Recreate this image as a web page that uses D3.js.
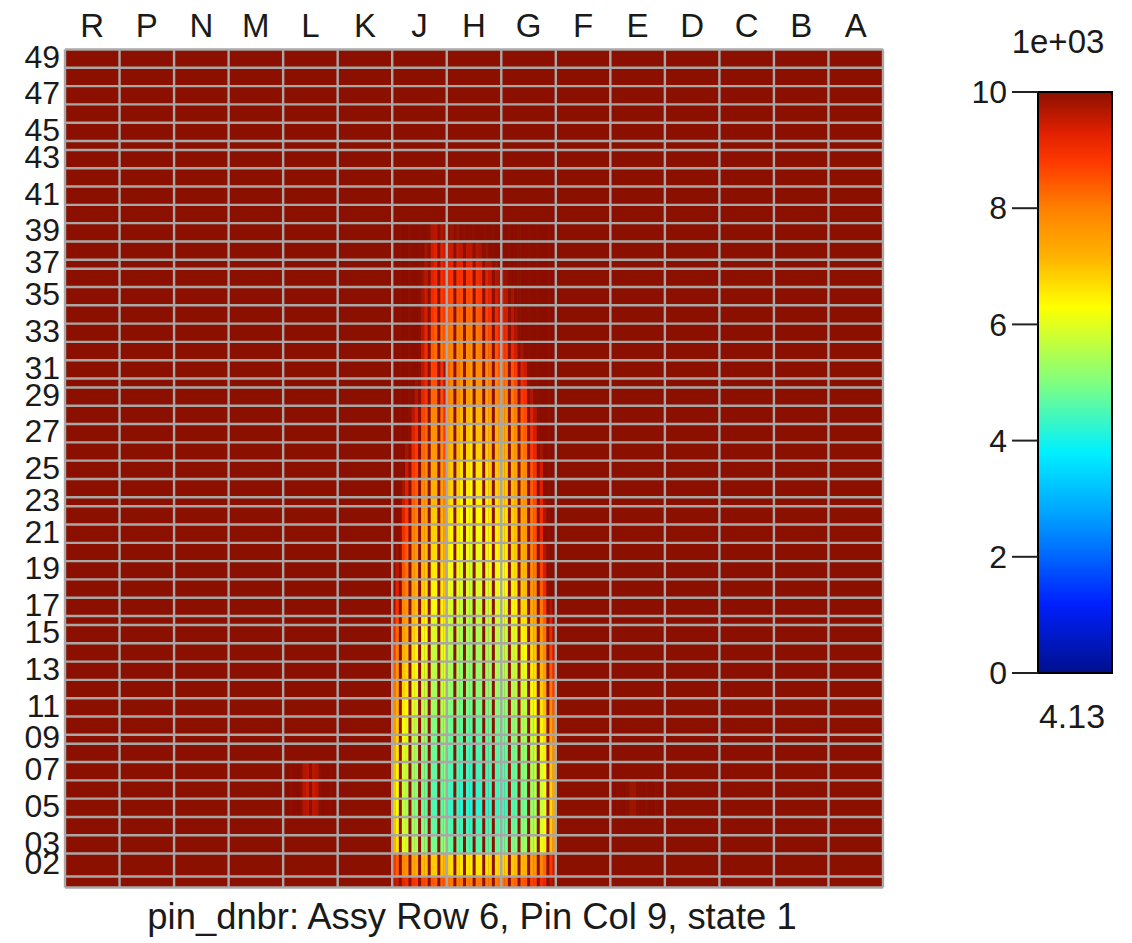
<!DOCTYPE html>
<html>
<head>
<meta charset="utf-8">
<script src="https://cdn.jsdelivr.net/npm/d3@7"></script>
<style>
  body { margin: 0; background: #fff; }
  text { font-family: "Liberation Sans", Arial, Helvetica, sans-serif; fill: #1a1a1a; }
</style>
</head>
<body>
<svg id="chart" width="1132" height="943"></svg>
<script>
//Assembly columns across the core row
var assemblies = ["R","P","N","M","L","K","J","H","G","F","E","D","C","B","A"];

//Axial mesh heights (cm), level 01 at the bottom up to level 49
var levelHeights = [4.95,10.35,
  8.24,8.24,8.24,8.24,8.24,8.24,4.05,
  8.24,8.24,8.24,8.24,8.24,8.24,4.05,
  8.24,8.24,8.24,8.24,8.24,8.24,4.05,
  8.24,8.24,8.24,8.24,8.24,8.24,4.05,
  8.24,8.24,8.24,8.24,8.24,8.24,4.05,
  8.24,8.24,8.24,8.24,8.24,8.24,4.05,
  8.24,8.24,8.24,8.24,8.24];

//Level labels that are printed on the left axis
var levelLabels = ["02","03","05","07","09","11","13","15","17","19","21","23","25",
  "27","29","31","33","35","37","39","41","43","45","47","49"];

//17 pins per assembly, guide tubes have no dnbr value
var pinsPerAssy = 17;
var guideTubePins = [3,6,9,12,15];
var fuelPins = [1,2,4,5,7,8,10,11,13,14,16,17];

//Colour bar ticks (x 1e+03) and the minimum value
var colorTicks = [0,2,4,6,8,10];
var minValue = 4.13;
var colorDomain = [0,1.2,2.5,3.8,5.0,6.3,7.2,8.0,8.8,9.3,10];
var colorRange = ["#00108c","#0020ff","#0090ff","#00f0ff","#80ff80","#ffff00",
  "#ffb000","#ff8000","#ff3800","#e02000","#8c1000"];

//pin dnbr (x 1e+03) for fuel pins, levels 01..39; everything else is above 10
var dnbrJ = [
  [9.7,9.5,9.2,9.0,8.9,8.8,8.7,8.6,8.5,8.4,8.4,8.5],
  [8.9,8.4,7.9,7.7,7.4,7.3,7.1,7.0,6.9,6.9,7.0,7.2],
  [7.2,6.6,6.0,5.8,5.5,5.4,5.2,5.1,4.9,4.9,5.0,5.3],
  [7.0,6.4,5.8,5.6,5.3,5.2,5.0,4.9,4.7,4.7,4.8,5.1],
  [6.8,6.2,5.6,5.4,5.1,5.0,4.8,4.7,4.5,4.5,4.6,4.9],
  [6.9,6.3,5.7,5.5,5.2,5.1,4.9,4.8,4.6,4.6,4.7,5.0],
  [7.0,6.4,5.8,5.6,5.3,5.2,5.0,4.9,4.7,4.7,4.8,5.1],
  [7.2,6.6,6.0,5.8,5.5,5.3,5.1,5.0,4.8,4.8,4.9,5.2],
  [7.5,6.8,6.2,5.9,5.6,5.5,5.3,5.2,4.9,4.9,5.1,5.4],
  [7.6,6.9,6.3,6.0,5.7,5.6,5.4,5.3,5.0,5.0,5.2,5.5],
  [7.9,7.2,6.5,6.3,6.0,5.8,5.6,5.5,5.3,5.3,5.4,5.7],
  [8.2,7.5,6.8,6.5,6.2,6.0,5.8,5.7,5.4,5.4,5.6,5.9],
  [8.5,7.7,7.0,6.7,6.4,6.2,6.0,5.9,5.6,5.6,5.7,6.1],
  [8.8,8.0,7.2,7.0,6.6,6.4,6.1,6.0,5.7,5.7,5.9,6.3],
  [9.2,8.3,7.5,7.2,6.8,6.6,6.3,6.2,5.9,5.9,6.0,6.5],
  [9.5,8.6,7.7,7.4,6.9,6.8,6.5,6.3,6.0,6.0,6.2,6.6],
  [9.9,8.9,7.9,7.6,7.2,7.0,6.7,6.5,6.2,6.2,6.4,6.8],
  [10,9.3,8.3,7.9,7.4,7.2,6.9,6.7,6.4,6.4,6.5,7.1],
  [10,9.6,8.5,8.1,7.6,7.4,7.1,6.9,6.5,6.5,6.7,7.2],
  [10,9.9,8.8,8.4,7.8,7.6,7.2,7.0,6.7,6.7,6.9,7.4],
  [10,10,9.0,8.6,8.0,7.8,7.4,7.2,6.8,6.8,7.0,7.6],
  [10,10,9.3,8.8,8.2,8.0,7.6,7.4,6.9,6.9,7.2,7.8],
  [10,10,9.5,9.1,8.4,8.2,7.7,7.5,7.1,7.1,7.3,8.0],
  [10,10,9.8,9.3,8.6,8.4,7.9,7.7,7.2,7.2,7.5,8.1],
  [10,10,10,9.5,8.8,8.6,8.1,7.8,7.4,7.4,7.6,8.3],
  [10,10,10,9.8,9.1,8.8,8.3,8.1,7.6,7.6,7.8,8.6],
  [10,10,10,10,9.3,9.0,8.5,8.3,7.7,7.7,8.0,8.8],
  [10,10,10,10,9.6,9.3,8.7,8.5,7.9,7.9,8.2,9.0],
  [10,10,10,10,10,9.7,9.2,8.9,8.3,8.3,8.6,9.4],
  [10,10,10,10,10,9.9,9.4,9.1,8.5,8.5,8.8,9.7],
  [10,10,10,10,10,10,9.6,9.3,8.7,8.7,9.0,9.9],
  [10,10,10,10,10,10,9.5,9.0,8.4,8.2,8.1,8.3],
  [10,10,10,10,10,10,9.6,9.2,8.6,8.4,8.3,8.5],
  [10,10,10,10,10,10,9.7,9.4,8.9,8.7,8.6,8.8],
  [10,10,10,10,10,10,9.8,9.5,9.1,8.9,8.8,9.0],
  [10,10,10,10,10,10,9.9,9.6,9.3,9.1,9.0,9.2],
  [10,10,10,10,10,10,10,9.8,9.5,9.3,9.2,9.4],
  [10,10,10,10,10,10,10,9.8,9.4,9.3,9.3,9.5],
  [10,10,10,10,10,10,10,10,9.7,9.6,9.7,9.9]
];
var dnbrH = [
  [8.2,8.1,8.1,8.1,8.1,8.0,8.1,8.1,8.1,8.1,8.1,8.2],
  [6.8,6.7,6.7,6.6,6.6,6.5,6.6,6.6,6.6,6.7,6.7,6.8],
  [4.8,4.7,4.7,4.6,4.6,4.5,4.6,4.6,4.6,4.7,4.7,4.8],
  [4.6,4.5,4.5,4.4,4.4,4.3,4.4,4.4,4.4,4.5,4.5,4.6],
  [4.4,4.3,4.3,4.2,4.2,4.13,4.2,4.2,4.2,4.3,4.3,4.4],
  [4.5,4.4,4.4,4.3,4.3,4.2,4.3,4.3,4.3,4.4,4.4,4.5],
  [4.6,4.5,4.5,4.4,4.4,4.3,4.4,4.4,4.4,4.5,4.5,4.6],
  [4.7,4.6,4.6,4.5,4.5,4.4,4.5,4.5,4.5,4.6,4.6,4.7],
  [4.8,4.7,4.7,4.6,4.6,4.5,4.6,4.6,4.6,4.7,4.7,4.8],
  [4.9,4.8,4.8,4.7,4.7,4.6,4.7,4.7,4.7,4.8,4.8,4.9],
  [5.1,5.0,5.0,4.9,4.9,4.8,4.9,4.9,4.9,5.0,5.0,5.1],
  [5.3,5.2,5.2,5.1,5.1,5.0,5.1,5.1,5.1,5.2,5.2,5.3],
  [5.5,5.4,5.4,5.2,5.2,5.1,5.2,5.2,5.2,5.4,5.4,5.5],
  [5.6,5.5,5.5,5.3,5.3,5.2,5.3,5.3,5.3,5.5,5.5,5.6],
  [5.7,5.6,5.6,5.4,5.4,5.3,5.4,5.4,5.4,5.6,5.6,5.7],
  [5.9,5.7,5.7,5.6,5.6,5.4,5.6,5.6,5.6,5.7,5.7,5.9],
  [6.0,5.9,5.9,5.7,5.7,5.55,5.7,5.7,5.7,5.9,5.9,6.0],
  [6.2,6.0,6.0,5.9,5.9,5.7,5.9,5.9,5.9,6.0,6.0,6.2],
  [6.3,6.2,6.2,6.0,6.0,5.8,6.0,6.0,6.0,6.2,6.2,6.3],
  [6.5,6.3,6.3,6.1,6.1,5.9,6.1,6.1,6.1,6.3,6.3,6.5],
  [6.6,6.4,6.4,6.2,6.2,6.0,6.2,6.2,6.2,6.4,6.4,6.6],
  [6.7,6.5,6.5,6.3,6.3,6.1,6.3,6.3,6.3,6.5,6.5,6.7],
  [6.9,6.6,6.6,6.4,6.4,6.2,6.4,6.4,6.4,6.6,6.6,6.9],
  [7.0,6.8,6.8,6.5,6.5,6.3,6.5,6.5,6.5,6.8,6.8,7.0],
  [7.1,6.9,6.9,6.6,6.6,6.4,6.6,6.6,6.6,6.9,6.9,7.1],
  [7.3,7.1,7.1,6.8,6.8,6.55,6.8,6.8,6.8,7.1,7.1,7.3],
  [7.5,7.2,7.2,7.0,7.0,6.7,7.0,7.0,7.0,7.2,7.2,7.5],
  [7.7,7.4,7.4,7.1,7.1,6.85,7.1,7.1,7.1,7.4,7.4,7.7],
  [8.0,7.8,7.8,7.5,7.5,7.2,7.5,7.5,7.5,7.8,7.8,8.0],
  [8.2,7.9,7.9,7.6,7.6,7.35,7.6,7.6,7.6,7.9,7.9,8.2],
  [8.4,8.1,8.1,7.8,7.8,7.5,7.8,7.8,7.8,8.1,8.1,8.4],
  [8.0,7.9,7.8,7.8,7.8,7.7,7.9,8.0,8.1,8.3,8.5,8.8],
  [8.2,8.1,8.0,8.0,8.0,7.9,8.1,8.2,8.4,8.6,8.8,9.1],
  [8.5,8.4,8.3,8.3,8.3,8.2,8.4,8.5,8.7,8.9,9.1,9.4],
  [8.7,8.6,8.6,8.6,8.6,8.5,8.7,8.8,9.0,9.2,9.4,9.6],
  [9.0,8.9,8.9,8.9,8.9,8.8,9.0,9.1,9.3,9.5,9.7,9.8],
  [9.3,9.2,9.2,9.2,9.2,9.1,9.3,9.4,9.6,9.7,9.9,10],
  [9.5,9.5,9.5,9.6,9.6,9.6,9.7,9.8,9.9,10,10,10],
  [9.9,9.9,9.9,10,10,10,10,10,10,10,10,10]
];
var dnbrG = [
  [8.2,8.2,8.2,8.3,8.4,8.5,8.7,8.8,9.0,9.2,9.6,9.9],
  [6.8,6.8,6.9,7.0,7.1,7.2,7.5,7.7,7.9,8.3,8.8,9.4],
  [4.8,4.8,4.9,5.0,5.2,5.3,5.6,5.8,6.1,6.5,7.1,7.7],
  [4.6,4.6,4.7,4.8,5.0,5.1,5.4,5.6,5.9,6.3,6.9,7.5],
  [4.4,4.4,4.5,4.6,4.8,4.9,5.2,5.4,5.7,6.1,6.7,7.3],
  [4.5,4.5,4.6,4.7,4.9,5.0,5.3,5.5,5.8,6.2,6.8,7.4],
  [4.6,4.6,4.7,4.8,5.0,5.1,5.4,5.6,5.9,6.3,6.9,7.5],
  [4.7,4.7,4.8,4.9,5.1,5.2,5.6,5.8,6.1,6.5,7.1,7.8],
  [4.8,4.8,5.0,5.1,5.3,5.4,5.7,5.9,6.3,6.7,7.4,8.0],
  [4.9,4.9,5.0,5.2,5.4,5.5,5.8,6.0,6.4,6.8,7.5,8.1],
  [5.1,5.1,5.3,5.4,5.6,5.7,6.1,6.3,6.6,7.1,7.8,8.5],
  [5.3,5.3,5.4,5.6,5.8,5.9,6.3,6.5,6.9,7.4,8.1,8.8],
  [5.5,5.5,5.6,5.7,6.0,6.1,6.5,6.7,7.1,7.6,8.4,9.1],
  [5.6,5.6,5.7,5.9,6.1,6.3,6.7,7.0,7.4,7.9,8.7,9.5],
  [5.7,5.7,5.9,6.0,6.3,6.5,6.9,7.2,7.6,8.2,9.1,9.9],
  [5.9,5.9,6.0,6.2,6.5,6.6,7.1,7.4,7.8,8.4,9.3,10],
  [6.0,6.0,6.2,6.4,6.7,6.8,7.3,7.6,8.1,8.8,9.7,10],
  [6.2,6.2,6.4,6.6,6.9,7.1,7.6,7.9,8.4,9.1,10,10],
  [6.3,6.3,6.5,6.7,7.1,7.2,7.8,8.1,8.7,9.4,10,10],
  [6.5,6.5,6.7,6.9,7.2,7.4,8.0,8.4,8.9,9.7,10,10],
  [6.6,6.6,6.8,7.0,7.4,7.6,8.2,8.6,9.2,10,10,10],
  [6.6,6.6,6.8,7.0,7.4,7.5,8.1,8.4,9.0,9.7,10,10],
  [6.8,6.8,6.9,7.1,7.5,7.7,8.2,8.6,9.2,9.9,10,10],
  [6.9,6.9,7.1,7.3,7.6,7.8,8.4,8.8,9.3,10,10,10],
  [7.0,7.0,7.2,7.4,7.7,7.9,8.5,8.9,9.4,10,10,10],
  [7.2,7.2,7.4,7.6,8.0,8.2,8.8,9.2,9.8,10,10,10],
  [7.3,7.3,7.5,7.8,8.2,8.4,9.0,9.4,10,10,10,10],
  [7.5,7.5,7.7,8.0,8.4,8.6,9.3,9.7,10,10,10,10],
  [7.9,7.9,8.1,8.4,8.8,9.0,9.7,10,10,10,10,10],
  [8.1,8.1,8.3,8.6,9.0,9.3,10,10,10,10,10,10],
  [8.3,8.3,8.5,8.8,9.3,9.5,10,10,10,10,10,10],
  [8.7,8.8,9.1,9.4,9.8,10,10,10,10,10,10,10],
  [9.0,9.1,9.4,9.7,10,10,10,10,10,10,10,10],
  [9.3,9.4,9.6,9.9,10,10,10,10,10,10,10,10],
  [9.5,9.6,9.8,10,10,10,10,10,10,10,10,10],
  [9.8,9.9,10,10,10,10,10,10,10,10,10,10],
  [10,10,10,10,10,10,10,10,10,10,10,10],
  [10,10,10,10,10,10,10,10,10,10,10,10],
  [10,10,10,10,10,10,10,10,10,10,10,10]
];
//Faint streaks in L and E: [level, fuel pin values]
var dnbrL = [
  [5, [10,10,10,10,9.7,9.6,9.6,9.7,10,10,10,10]],
  [6, [10,10,10,10,9.6,9.5,9.5,9.6,10,10,10,10]],
  [7, [10,10,10,10,9.7,9.6,9.6,9.7,10,10,10,10]]
];
var dnbrE = [
  [5, [10,10,10,10,9.85,9.85,10,10,10,10,10,10]],
  [6, [10,10,10,10,9.85,9.85,10,10,10,10,10,10]]
];

var title = "pin_dnbr: Assy Row 6, Pin Col 9, state 1";
var scaleExponent = "1e+03";

var svg = d3.select("#chart");
var plot = {left: 65, right: 883, top: 49.5, bottom: 887.5};

var bounds = [0];
levelHeights.forEach(function(h) { bounds.push(bounds[bounds.length - 1] + h); });

var x = d3.scaleBand().domain(assemblies).range([plot.left, plot.right]);
var y = d3.scaleLinear().domain([0, bounds[bounds.length - 1]]).range([plot.bottom, plot.top]);
var color = d3.scaleLinear().domain(colorDomain).range(colorRange).clamp(true);
var vmax = d3.max(colorTicks);
var pw = x.bandwidth() / pinsPerAssy;

var levels = levelHeights.map(function(h, i) {
  return {label: d3.format("02d")(i + 1), lo: bounds[i], hi: bounds[i + 1]};
});

//Soft horizontal smoothing, the pin stripes in the original are slightly blurred
svg.append("defs").append("filter")
  .attr("id", "soft").attr("x", "-2%").attr("y", "0%").attr("width", "104%").attr("height", "100%")
  .append("feGaussianBlur").attr("stdDeviation", "0.6 0");

//Base cells: every assembly/level is above the colour range unless overridden below
var cells = [];
assemblies.forEach(function(a) {
  levels.forEach(function(l) { cells.push({assy: a, lo: l.lo, hi: l.hi}); });
});
svg.append("g").selectAll("rect")
  .data(cells).enter().append("rect")
  .attr("x", function(d) { return x(d.assy); })
  .attr("y", function(d) { return y(d.hi); })
  .attr("width", x.bandwidth())
  .attr("height", function(d) { return y(d.lo) - y(d.hi); })
  .attr("fill", color(vmax));

//Pin stripes
var pins = [];
function addPins(assy, rows, levelOf) {
  rows.forEach(function(row, i) {
    var li = levelOf(row, i);
    var vals = Array.isArray(row[1]) ? row[1] : row;
    vals.forEach(function(v, j) {
      pins.push({assy: assy, pin: fuelPins[j], lo: levels[li].lo, hi: levels[li].hi, v: v});
    });
  });
}
addPins("J", dnbrJ, function(r, i) { return i; });
addPins("H", dnbrH, function(r, i) { return i; });
addPins("G", dnbrG, function(r, i) { return i; });
addPins("L", dnbrL, function(r) { return r[0] - 1; });
addPins("E", dnbrE, function(r) { return r[0] - 1; });

svg.append("g").attr("filter", "url(#soft)")
  .selectAll("rect")
  .data(pins).enter().append("rect")
  .attr("x", function(d) { return x(d.assy) + (d.pin - 1) * pw; })
  .attr("y", function(d) { return y(d.hi); })
  .attr("width", pw + 0.2)
  .attr("height", function(d) { return y(d.lo) - y(d.hi); })
  .attr("fill", function(d) { return color(Math.min(d.v, vmax)); });

//Grid lines
var grid = svg.append("g").attr("stroke", "#a8a8a8").attr("stroke-width", 2.4);
grid.selectAll("line.v")
  .data(assemblies.map(function(a) { return x(a); }).concat([plot.right]))
  .enter().append("line")
  .attr("x1", function(d) { return d; }).attr("x2", function(d) { return d; })
  .attr("y1", plot.top).attr("y2", plot.bottom);
grid.selectAll("line.h")
  .data(bounds).enter().append("line")
  .attr("x1", plot.left).attr("x2", plot.right)
  .attr("y1", function(d) { return y(d); }).attr("y2", function(d) { return y(d); });

//Column labels
svg.append("g").selectAll("text")
  .data(assemblies).enter().append("text")
  .attr("x", function(d) { return x(d) + x.bandwidth() / 2; })
  .attr("y", 37)
  .attr("text-anchor", "middle")
  .attr("font-size", 33)
  .text(function(d) { return d; });

//Level labels
svg.append("g").selectAll("text")
  .data(levels.filter(function(l) { return levelLabels.indexOf(l.label) >= 0; }))
  .enter().append("text")
  .attr("x", 60)
  .attr("y", function(d) { return y((d.lo + d.hi) / 2) - 2; })
  .attr("dy", "0.35em")
  .attr("text-anchor", "end")
  .attr("font-size", 32)
  .text(function(d) { return d.label; });

//Title
svg.append("text")
  .attr("x", 472).attr("y", 929)
  .attr("text-anchor", "middle")
  .attr("font-size", 36.4)
  .attr("fill", "#333")
  .text(title);

//Colour bar
var cb = {x: 1038, w: 74, top: 92, bottom: 673};
var cy = d3.scaleLinear().domain([0, vmax]).range([cb.bottom, cb.top]);
var grad = svg.select("defs").append("linearGradient")
  .attr("id", "cbar").attr("x1", 0).attr("y1", 1).attr("x2", 0).attr("y2", 0);
grad.selectAll("stop")
  .data(colorDomain).enter().append("stop")
  .attr("offset", function(d) { return d / vmax; })
  .attr("stop-color", function(d) { return color(d); });
svg.append("rect")
  .attr("x", cb.x).attr("y", cb.top)
  .attr("width", cb.w).attr("height", cb.bottom - cb.top)
  .attr("fill", "url(#cbar)")
  .attr("stroke", "#000").attr("stroke-width", 2);

var cbAxis = svg.append("g").selectAll("g")
  .data(colorTicks).enter().append("g")
  .attr("transform", function(d) { return "translate(0," + cy(d) + ")"; });
cbAxis.append("line")
  .attr("x1", 1012).attr("x2", cb.x)
  .attr("stroke", "#222").attr("stroke-width", 2);
cbAxis.append("text")
  .attr("x", 1007).attr("dy", "0.35em")
  .attr("text-anchor", "end")
  .attr("font-size", 32)
  .text(function(d) { return d; });

svg.append("text")
  .attr("x", 1058).attr("y", 53)
  .attr("text-anchor", "middle")
  .attr("font-size", 33)
  .text(scaleExponent);
svg.append("text")
  .attr("x", 1072).attr("y", 728)
  .attr("text-anchor", "middle")
  .attr("font-size", 34)
  .text(d3.format(".2f")(minValue));
</script>
</body>
</html>
